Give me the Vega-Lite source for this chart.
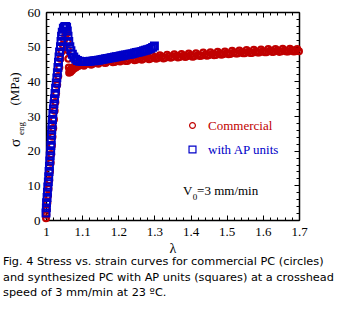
{
  "$schema": "https://vega.github.io/schema/vega-lite/v6.json",
  "width": 253,
  "height": 208,
  "autosize": {"type": "none"},
  "padding": {"left": 46, "top": 12, "right": 40, "bottom": 97},
  "background": "white",
  "config": {"view": {"stroke": null}, "font": "Liberation Serif"},
  "title": {
    "text": ["Fig. 4 Stress vs. strain curves for commercial PC (circles)", "and synthesized PC with AP units (squares) at a crosshead", "speed of 3 mm/min at 23 ºC."],
    "orient": "bottom", "anchor": "start", "frame": "group", "dx": -43, "offset": 1,
    "font": "DejaVu Sans", "fontSize": 11.3, "fontWeight": "normal", "color": "#000000", "lineHeight": 15.5
  },
  "data": {"values": [
    {"s": "Commercial", "l": 1.000, "y": 0.5},
    {"s": "Commercial", "l": 1.001, "y": 1.5},
    {"s": "Commercial", "l": 1.002, "y": 3},
    {"s": "Commercial", "l": 1.004, "y": 5},
    {"s": "Commercial", "l": 1.0055, "y": 7},
    {"s": "Commercial", "l": 1.007, "y": 9},
    {"s": "Commercial", "l": 1.009, "y": 11.5},
    {"s": "Commercial", "l": 1.011, "y": 14},
    {"s": "Commercial", "l": 1.013, "y": 16.5},
    {"s": "Commercial", "l": 1.0145, "y": 19},
    {"s": "Commercial", "l": 1.0165, "y": 21.5},
    {"s": "Commercial", "l": 1.018, "y": 24},
    {"s": "Commercial", "l": 1.020, "y": 26.5},
    {"s": "Commercial", "l": 1.022, "y": 29},
    {"s": "Commercial", "l": 1.024, "y": 31.5},
    {"s": "Commercial", "l": 1.026, "y": 34},
    {"s": "Commercial", "l": 1.028, "y": 36.5},
    {"s": "Commercial", "l": 1.031, "y": 39},
    {"s": "Commercial", "l": 1.034, "y": 41.5},
    {"s": "Commercial", "l": 1.037, "y": 44},
    {"s": "Commercial", "l": 1.040, "y": 46.5},
    {"s": "Commercial", "l": 1.043, "y": 48.5},
    {"s": "Commercial", "l": 1.0465, "y": 50.5},
    {"s": "Commercial", "l": 1.050, "y": 52},
    {"s": "Commercial", "l": 1.0535, "y": 53.2},
    {"s": "Commercial", "l": 1.057, "y": 53.9},
    {"s": "Commercial", "l": 1.059, "y": 54},
    {"s": "Commercial", "l": 1.060, "y": 51.5},
    {"s": "Commercial", "l": 1.061, "y": 49},
    {"s": "Commercial", "l": 1.062, "y": 46.5},
    {"s": "Commercial", "l": 1.063, "y": 44},
    {"s": "Commercial", "l": 1.064, "y": 42.5},
    {"s": "Commercial", "l": 1.066, "y": 43.2},
    {"s": "Commercial", "l": 1.068, "y": 42.7},
    {"s": "Commercial", "l": 1.070, "y": 43.6},
    {"s": "Commercial", "l": 1.072, "y": 43.1},
    {"s": "Commercial", "l": 1.075, "y": 44.0},
    {"s": "Commercial", "l": 1.077, "y": 43.6},
    {"s": "Commercial", "l": 1.080, "y": 44.3},
    {"s": "Commercial", "l": 1.083, "y": 44.0},
    {"s": "Commercial", "l": 1.087, "y": 44.6},
    {"s": "Commercial", "l": 1.090, "y": 44.4},
    {"s": "Commercial", "l": 1.095, "y": 44.9},
    {"s": "Commercial", "l": 1.100, "y": 44.8},
    {"s": "Commercial", "l": 1.105, "y": 44.5},
    {"s": "Commercial", "l": 1.11, "y": 45.0},
    {"s": "Commercial", "l": 1.115, "y": 45.5},
    {"s": "Commercial", "l": 1.12, "y": 45.2},
    {"s": "Commercial", "l": 1.125, "y": 44.8},
    {"s": "Commercial", "l": 1.13, "y": 45.1},
    {"s": "Commercial", "l": 1.135, "y": 45.8},
    {"s": "Commercial", "l": 1.14, "y": 45.4},
    {"s": "Commercial", "l": 1.145, "y": 45.1},
    {"s": "Commercial", "l": 1.15, "y": 45.5},
    {"s": "Commercial", "l": 1.155, "y": 46.0},
    {"s": "Commercial", "l": 1.16, "y": 45.4},
    {"s": "Commercial", "l": 1.165, "y": 45.3},
    {"s": "Commercial", "l": 1.17, "y": 45.7},
    {"s": "Commercial", "l": 1.175, "y": 46.3},
    {"s": "Commercial", "l": 1.18, "y": 45.8},
    {"s": "Commercial", "l": 1.185, "y": 45.5},
    {"s": "Commercial", "l": 1.19, "y": 45.6},
    {"s": "Commercial", "l": 1.195, "y": 46.5},
    {"s": "Commercial", "l": 1.20, "y": 46.0},
    {"s": "Commercial", "l": 1.205, "y": 45.7},
    {"s": "Commercial", "l": 1.21, "y": 46.1},
    {"s": "Commercial", "l": 1.215, "y": 46.7},
    {"s": "Commercial", "l": 1.22, "y": 45.9},
    {"s": "Commercial", "l": 1.225, "y": 45.9},
    {"s": "Commercial", "l": 1.23, "y": 46.3},
    {"s": "Commercial", "l": 1.235, "y": 46.9},
    {"s": "Commercial", "l": 1.24, "y": 46.4},
    {"s": "Commercial", "l": 1.245, "y": 46.1},
    {"s": "Commercial", "l": 1.25, "y": 46.2},
    {"s": "Commercial", "l": 1.255, "y": 47.0},
    {"s": "Commercial", "l": 1.26, "y": 46.6},
    {"s": "Commercial", "l": 1.265, "y": 46.2},
    {"s": "Commercial", "l": 1.27, "y": 46.5},
    {"s": "Commercial", "l": 1.275, "y": 47.2},
    {"s": "Commercial", "l": 1.28, "y": 46.8},
    {"s": "Commercial", "l": 1.285, "y": 46.4},
    {"s": "Commercial", "l": 1.29, "y": 46.6},
    {"s": "Commercial", "l": 1.295, "y": 47.4},
    {"s": "Commercial", "l": 1.30, "y": 46.9},
    {"s": "Commercial", "l": 1.305, "y": 46.5},
    {"s": "Commercial", "l": 1.31, "y": 46.7},
    {"s": "Commercial", "l": 1.315, "y": 47.5},
    {"s": "Commercial", "l": 1.32, "y": 47.1},
    {"s": "Commercial", "l": 1.325, "y": 46.6},
    {"s": "Commercial", "l": 1.33, "y": 46.8},
    {"s": "Commercial", "l": 1.335, "y": 47.7},
    {"s": "Commercial", "l": 1.34, "y": 47.2},
    {"s": "Commercial", "l": 1.345, "y": 46.8},
    {"s": "Commercial", "l": 1.35, "y": 47.0},
    {"s": "Commercial", "l": 1.355, "y": 47.8},
    {"s": "Commercial", "l": 1.36, "y": 47.3},
    {"s": "Commercial", "l": 1.365, "y": 46.9},
    {"s": "Commercial", "l": 1.37, "y": 47.0},
    {"s": "Commercial", "l": 1.375, "y": 47.9},
    {"s": "Commercial", "l": 1.38, "y": 47.4},
    {"s": "Commercial", "l": 1.385, "y": 47.0},
    {"s": "Commercial", "l": 1.39, "y": 47.2},
    {"s": "Commercial", "l": 1.395, "y": 48.0},
    {"s": "Commercial", "l": 1.40, "y": 47.5},
    {"s": "Commercial", "l": 1.405, "y": 47.1},
    {"s": "Commercial", "l": 1.41, "y": 47.2},
    {"s": "Commercial", "l": 1.415, "y": 48.1},
    {"s": "Commercial", "l": 1.42, "y": 47.6},
    {"s": "Commercial", "l": 1.425, "y": 47.3},
    {"s": "Commercial", "l": 1.43, "y": 47.4},
    {"s": "Commercial", "l": 1.435, "y": 48.3},
    {"s": "Commercial", "l": 1.44, "y": 47.7},
    {"s": "Commercial", "l": 1.445, "y": 47.4},
    {"s": "Commercial", "l": 1.45, "y": 47.5},
    {"s": "Commercial", "l": 1.455, "y": 48.4},
    {"s": "Commercial", "l": 1.46, "y": 47.9},
    {"s": "Commercial", "l": 1.465, "y": 47.5},
    {"s": "Commercial", "l": 1.47, "y": 47.6},
    {"s": "Commercial", "l": 1.475, "y": 48.5},
    {"s": "Commercial", "l": 1.48, "y": 48.0},
    {"s": "Commercial", "l": 1.485, "y": 47.7},
    {"s": "Commercial", "l": 1.49, "y": 47.8},
    {"s": "Commercial", "l": 1.495, "y": 48.6},
    {"s": "Commercial", "l": 1.50, "y": 48.1},
    {"s": "Commercial", "l": 1.505, "y": 47.8},
    {"s": "Commercial", "l": 1.51, "y": 47.9},
    {"s": "Commercial", "l": 1.515, "y": 48.8},
    {"s": "Commercial", "l": 1.52, "y": 48.3},
    {"s": "Commercial", "l": 1.525, "y": 48.0},
    {"s": "Commercial", "l": 1.53, "y": 48.0},
    {"s": "Commercial", "l": 1.535, "y": 48.9},
    {"s": "Commercial", "l": 1.54, "y": 48.4},
    {"s": "Commercial", "l": 1.545, "y": 48.1},
    {"s": "Commercial", "l": 1.55, "y": 48.1},
    {"s": "Commercial", "l": 1.555, "y": 49.0},
    {"s": "Commercial", "l": 1.56, "y": 48.5},
    {"s": "Commercial", "l": 1.565, "y": 48.2},
    {"s": "Commercial", "l": 1.57, "y": 48.2},
    {"s": "Commercial", "l": 1.575, "y": 49.1},
    {"s": "Commercial", "l": 1.58, "y": 48.6},
    {"s": "Commercial", "l": 1.585, "y": 48.3},
    {"s": "Commercial", "l": 1.59, "y": 48.3},
    {"s": "Commercial", "l": 1.595, "y": 49.2},
    {"s": "Commercial", "l": 1.60, "y": 48.7},
    {"s": "Commercial", "l": 1.605, "y": 48.4},
    {"s": "Commercial", "l": 1.61, "y": 48.4},
    {"s": "Commercial", "l": 1.615, "y": 49.3},
    {"s": "Commercial", "l": 1.62, "y": 48.8},
    {"s": "Commercial", "l": 1.625, "y": 48.5},
    {"s": "Commercial", "l": 1.63, "y": 48.5},
    {"s": "Commercial", "l": 1.635, "y": 49.3},
    {"s": "Commercial", "l": 1.64, "y": 48.9},
    {"s": "Commercial", "l": 1.645, "y": 48.5},
    {"s": "Commercial", "l": 1.65, "y": 48.6},
    {"s": "Commercial", "l": 1.655, "y": 49.4},
    {"s": "Commercial", "l": 1.66, "y": 48.9},
    {"s": "Commercial", "l": 1.665, "y": 48.6},
    {"s": "Commercial", "l": 1.67, "y": 48.6},
    {"s": "Commercial", "l": 1.675, "y": 49.4},
    {"s": "Commercial", "l": 1.68, "y": 49.0},
    {"s": "Commercial", "l": 1.685, "y": 48.6},
    {"s": "Commercial", "l": 1.69, "y": 48.7},
    {"s": "Commercial", "l": 1.695, "y": 49.3},
    {"s": "Commercial", "l": 1.70, "y": 48.7},
    {"s": "with AP units", "l": 1.000, "y": 2},
    {"s": "with AP units", "l": 1.001, "y": 3.5},
    {"s": "with AP units", "l": 1.0015, "y": 5},
    {"s": "with AP units", "l": 1.003, "y": 6.5},
    {"s": "with AP units", "l": 1.004, "y": 8},
    {"s": "with AP units", "l": 1.005, "y": 9.5},
    {"s": "with AP units", "l": 1.0065, "y": 11},
    {"s": "with AP units", "l": 1.0075, "y": 12.5},
    {"s": "with AP units", "l": 1.0085, "y": 14},
    {"s": "with AP units", "l": 1.0095, "y": 15.5},
    {"s": "with AP units", "l": 1.0105, "y": 17},
    {"s": "with AP units", "l": 1.0115, "y": 18.5},
    {"s": "with AP units", "l": 1.013, "y": 20},
    {"s": "with AP units", "l": 1.0135, "y": 21.5},
    {"s": "with AP units", "l": 1.0145, "y": 23},
    {"s": "with AP units", "l": 1.015, "y": 24.5},
    {"s": "with AP units", "l": 1.016, "y": 26},
    {"s": "with AP units", "l": 1.017, "y": 27.5},
    {"s": "with AP units", "l": 1.018, "y": 29},
    {"s": "with AP units", "l": 1.019, "y": 30.5},
    {"s": "with AP units", "l": 1.0205, "y": 32},
    {"s": "with AP units", "l": 1.022, "y": 33.5},
    {"s": "with AP units", "l": 1.0235, "y": 35},
    {"s": "with AP units", "l": 1.025, "y": 36.5},
    {"s": "with AP units", "l": 1.0265, "y": 38},
    {"s": "with AP units", "l": 1.0285, "y": 39.5},
    {"s": "with AP units", "l": 1.030, "y": 41},
    {"s": "with AP units", "l": 1.0315, "y": 42.5},
    {"s": "with AP units", "l": 1.033, "y": 44},
    {"s": "with AP units", "l": 1.0345, "y": 45.5},
    {"s": "with AP units", "l": 1.036, "y": 47},
    {"s": "with AP units", "l": 1.0375, "y": 48.5},
    {"s": "with AP units", "l": 1.040, "y": 50},
    {"s": "with AP units", "l": 1.0415, "y": 51.5},
    {"s": "with AP units", "l": 1.043, "y": 53},
    {"s": "with AP units", "l": 1.045, "y": 54.2},
    {"s": "with AP units", "l": 1.048, "y": 55.3},
    {"s": "with AP units", "l": 1.051, "y": 55.7},
    {"s": "with AP units", "l": 1.054, "y": 55.8},
    {"s": "with AP units", "l": 1.057, "y": 55.6},
    {"s": "with AP units", "l": 1.059, "y": 54.5},
    {"s": "with AP units", "l": 1.061, "y": 53},
    {"s": "with AP units", "l": 1.063, "y": 51.5},
    {"s": "with AP units", "l": 1.066, "y": 50},
    {"s": "with AP units", "l": 1.069, "y": 48.8},
    {"s": "with AP units", "l": 1.073, "y": 47.8},
    {"s": "with AP units", "l": 1.077, "y": 47},
    {"s": "with AP units", "l": 1.082, "y": 46.4},
    {"s": "with AP units", "l": 1.087, "y": 46},
    {"s": "with AP units", "l": 1.093, "y": 45.8},
    {"s": "with AP units", "l": 1.100, "y": 45.7},
    {"s": "with AP units", "l": 1.107, "y": 45.7},
    {"s": "with AP units", "l": 1.115, "y": 45.7},
    {"s": "with AP units", "l": 1.122, "y": 45.8},
    {"s": "with AP units", "l": 1.13, "y": 45.9},
    {"s": "with AP units", "l": 1.135, "y": 45.95},
    {"s": "with AP units", "l": 1.14, "y": 46.0},
    {"s": "with AP units", "l": 1.145, "y": 46.1},
    {"s": "with AP units", "l": 1.15, "y": 46.2},
    {"s": "with AP units", "l": 1.155, "y": 46.3},
    {"s": "with AP units", "l": 1.16, "y": 46.4},
    {"s": "with AP units", "l": 1.165, "y": 46.5},
    {"s": "with AP units", "l": 1.17, "y": 46.6},
    {"s": "with AP units", "l": 1.175, "y": 46.7},
    {"s": "with AP units", "l": 1.18, "y": 46.8},
    {"s": "with AP units", "l": 1.185, "y": 46.9},
    {"s": "with AP units", "l": 1.19, "y": 47.0},
    {"s": "with AP units", "l": 1.195, "y": 47.1},
    {"s": "with AP units", "l": 1.20, "y": 47.2},
    {"s": "with AP units", "l": 1.205, "y": 47.3},
    {"s": "with AP units", "l": 1.21, "y": 47.4},
    {"s": "with AP units", "l": 1.215, "y": 47.5},
    {"s": "with AP units", "l": 1.22, "y": 47.6},
    {"s": "with AP units", "l": 1.225, "y": 47.7},
    {"s": "with AP units", "l": 1.23, "y": 47.8},
    {"s": "with AP units", "l": 1.235, "y": 47.9},
    {"s": "with AP units", "l": 1.24, "y": 48.0},
    {"s": "with AP units", "l": 1.245, "y": 48.15},
    {"s": "with AP units", "l": 1.25, "y": 48.3},
    {"s": "with AP units", "l": 1.255, "y": 48.4},
    {"s": "with AP units", "l": 1.26, "y": 48.5},
    {"s": "with AP units", "l": 1.265, "y": 48.65},
    {"s": "with AP units", "l": 1.27, "y": 48.8},
    {"s": "with AP units", "l": 1.275, "y": 48.95},
    {"s": "with AP units", "l": 1.28, "y": 49.1},
    {"s": "with AP units", "l": 1.285, "y": 49.3},
    {"s": "with AP units", "l": 1.29, "y": 49.5},
    {"s": "with AP units", "l": 1.295, "y": 49.8},
    {"s": "with AP units", "l": 1.30, "y": 50.2}
  ]},
  "layer": [
    {
      "transform": [{"filter": "datum.s == 'Commercial'"}],
      "mark": {"type": "point", "filled": false, "strokeWidth": 2.2, "opacity": 1},
      "encoding": {
        "x": {"field": "l", "type": "quantitative", "scale": {"domain": [1, 1.7], "nice": false, "zero": false},
          "axis": {"orient": "bottom", "title": "λ", "titleFont": "Liberation Serif", "titleFontSize": 14, "titleFontWeight": "normal", "titleColor": "#000", "titlePadding": 1,
            "values": [1,1.02,1.04,1.06,1.08,1.1,1.12,1.14,1.16,1.18,1.2,1.22,1.24,1.26,1.28,1.3,1.32,1.34,1.36,1.38,1.4,1.42,1.44,1.46,1.48,1.5,1.52,1.54,1.56,1.58,1.6,1.62,1.64,1.66,1.68,1.7],
            "format": "~g",
            "labelExpr": "abs(datum.value*10 - round(datum.value*10)) < 0.001 ? datum.label : ''",
            "tickSize": {"condition": {"test": "abs(datum.value*10 - round(datum.value*10)) < 0.001", "value": -5}, "value": -3},
            "labelPadding": 10, "labelFont": "Liberation Serif", "labelFontSize": 13, "labelColor": "#000", "labelFlush": false, "labelOverlap": false,
            "domainColor": "#000", "domainWidth": 1.5, "tickColor": "#000", "tickWidth": 1, "grid": false}},
        "y": {"field": "y", "type": "quantitative", "scale": {"domain": [0, 60], "nice": false},
          "axis": {"orient": "left", "title": null,
            "values": [0,2,4,6,8,10,12,14,16,18,20,22,24,26,28,30,32,34,36,38,40,42,44,46,48,50,52,54,56,58,60],
            "labelExpr": "datum.value % 10 == 0 ? datum.label : ''",
            "tickSize": {"condition": {"test": "datum.value % 10 == 0", "value": -5}, "value": -3},
            "labelPadding": 11, "labelFont": "Liberation Serif", "labelFontSize": 13, "labelColor": "#000", "labelFlush": false, "labelOverlap": false,
            "domainColor": "#000", "domainWidth": 1.5, "tickColor": "#000", "tickWidth": 1, "grid": false}},
        "color": {"field": "s", "type": "nominal", "scale": {"domain": ["Commercial", "with AP units"], "range": ["#c00000", "#0000c8"]},
          "legend": {"orient": "none", "legendX": 140, "legendY": 107, "title": null, "padding": 0, "rowPadding": 10, "labelOffset": 9,
            "labelFont": "Liberation Serif", "labelFontSize": 13, "symbolStrokeWidth": 1.2,
            "labelColor": {"expr": "datum.label == 'Commercial' ? '#c00000' : '#0000c8'"}}},
        "shape": {"field": "s", "type": "nominal", "scale": {"domain": ["Commercial", "with AP units"], "range": ["circle", "square"]}},
        "size": {"field": "s", "type": "nominal", "scale": {"domain": ["Commercial", "with AP units"], "range": [34, 48]}}
      }
    },
    {
      "transform": [{"filter": "datum.s != 'Commercial'"}],
      "mark": {"type": "point", "filled": false, "strokeWidth": 2, "opacity": 1},
      "encoding": {
        "x": {"field": "l", "type": "quantitative", "scale": {"domain": [1, 1.7], "nice": false, "zero": false},
          "axis": {"orient": "top", "title": null, "labels": false,
            "values": [1,1.02,1.04,1.06,1.08,1.1,1.12,1.14,1.16,1.18,1.2,1.22,1.24,1.26,1.28,1.3,1.32,1.34,1.36,1.38,1.4,1.42,1.44,1.46,1.48,1.5,1.52,1.54,1.56,1.58,1.6,1.62,1.64,1.66,1.68,1.7],
            "tickSize": {"condition": {"test": "abs(datum.value*10 - round(datum.value*10)) < 0.001", "value": -5}, "value": -3},
            "domainColor": "#000", "domainWidth": 1.5, "tickColor": "#000", "tickWidth": 1, "grid": false}},
        "y": {"field": "y", "type": "quantitative", "scale": {"domain": [0, 60], "nice": false},
          "axis": {"orient": "right", "title": null, "labels": false,
            "values": [0,2,4,6,8,10,12,14,16,18,20,22,24,26,28,30,32,34,36,38,40,42,44,46,48,50,52,54,56,58,60],
            "tickSize": {"condition": {"test": "datum.value % 10 == 0", "value": -5}, "value": -3},
            "domainColor": "#000", "domainWidth": 1.5, "tickColor": "#000", "tickWidth": 1, "grid": false}},
        "color": {"field": "s", "type": "nominal", "scale": {"domain": ["Commercial", "with AP units"], "range": ["#c00000", "#0000c8"]}},
        "shape": {"field": "s", "type": "nominal", "scale": {"domain": ["Commercial", "with AP units"], "range": ["circle", "square"]}},
        "size": {"field": "s", "type": "nominal", "scale": {"domain": ["Commercial", "with AP units"], "range": [34, 48]}}
      }
    },
    {
      "data": {"values": [{}]},
      "mark": {"type": "text", "text": "σ", "angle": 270, "align": "center", "baseline": "middle", "fontSize": 15, "font": "Liberation Serif", "fill": "#000"},
      "encoding": {"x": {"datum": 0.914, "type": "quantitative", "axis": null}, "y": {"datum": 22.2, "type": "quantitative", "axis": null}}
    },
    {
      "data": {"values": [{}]},
      "mark": {"type": "text", "text": "eng", "angle": 270, "align": "center", "baseline": "middle", "fontSize": 9, "font": "Liberation Serif", "fill": "#000"},
      "encoding": {"x": {"datum": 0.932, "type": "quantitative", "axis": null}, "y": {"datum": 26.4, "type": "quantitative", "axis": null}}
    },
    {
      "data": {"values": [{}]},
      "mark": {"type": "text", "text": "(MPa)", "angle": 270, "align": "center", "baseline": "middle", "fontSize": 13, "font": "Liberation Serif", "fill": "#000"},
      "encoding": {"x": {"datum": 0.914, "type": "quantitative", "axis": null}, "y": {"datum": 37.8, "type": "quantitative", "axis": null}}
    },
    {
      "data": {"values": [{}]},
      "mark": {"type": "text", "text": "V", "align": "left", "baseline": "alphabetic", "fontSize": 13, "font": "Liberation Serif", "fill": "#000"},
      "encoding": {"x": {"datum": 1.379, "type": "quantitative", "axis": null}, "y": {"datum": 7.2, "type": "quantitative", "axis": null}}
    },
    {
      "data": {"values": [{}]},
      "mark": {"type": "text", "text": "0", "align": "left", "baseline": "alphabetic", "fontSize": 9, "font": "Liberation Serif", "fill": "#000"},
      "encoding": {"x": {"datum": 1.406, "type": "quantitative", "axis": null}, "y": {"datum": 5.8, "type": "quantitative", "axis": null}}
    },
    {
      "data": {"values": [{}]},
      "mark": {"type": "text", "text": "=3 mm/min", "align": "left", "baseline": "alphabetic", "fontSize": 13, "font": "Liberation Serif", "fill": "#000"},
      "encoding": {"x": {"datum": 1.418, "type": "quantitative", "axis": null}, "y": {"datum": 7.2, "type": "quantitative", "axis": null}}
    }
  ],
  "resolve": {"axis": {"x": "independent", "y": "independent"}}
}
